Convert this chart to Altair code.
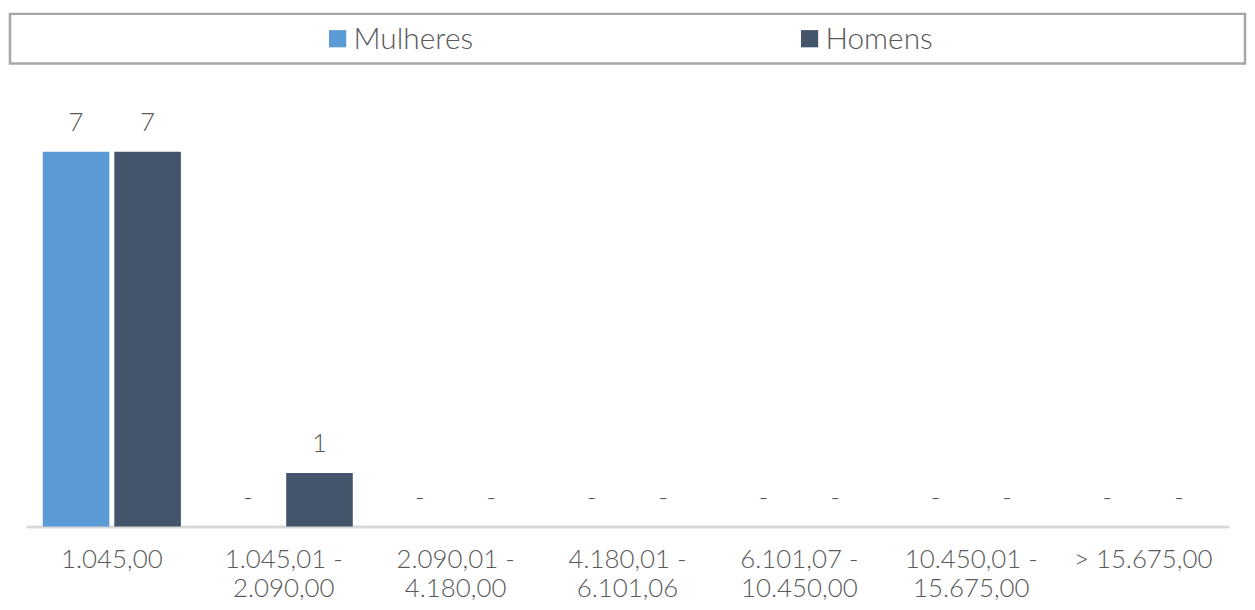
import altair as alt
import pandas as pd

categorias = ["1.045,00", "1.045,01 - 2.090,00", "2.090,01 - 4.180,00", "4.180,01 - 6.101,06",
              "6.101,07 - 10.450,00", "10.450,01 - 15.675,00", "> 15.675,00"]
series = ["Mulheres", "Homens"]
mulheres = [7, 0, 0, 0, 0, 0, 0]
homens = [7, 1, 0, 0, 0, 0, 0]
cores = ["#5B9BD5", "#44546A"]

rows = []
for i, c in enumerate(categorias):
    for s, vals in zip(series, [mulheres, homens]):
        v = vals[i]
        rows.append({"categoria": c, "serie": s, "valor": v, "rotulo": str(v) if v else "-"})
df = pd.DataFrame(rows)

TXT = "#595959"
FONT = "Lato"
WEIGHT = 300
W = 1243

color = alt.Color("serie:N", scale=alt.Scale(domain=series, range=cores), legend=None)

# legend strip (framed box)
leg_df = pd.DataFrame({"serie": series})
leg_base = alt.Chart(leg_df).encode(
    x=alt.X("serie:N", sort=series,
            scale=alt.Scale(type="point", domain=series, range=[329.75, 804.75], padding=0),
            axis=None),
    y=alt.value(25),
)
leg_sq = leg_base.mark_square(size=300, opacity=1, filled=True, strokeWidth=0).encode(color=color)
leg_tx = leg_base.mark_text(align="left", baseline="middle", dx=16, dy=1, fontSize=30,
                            font=FONT, fontWeight=WEIGHT, color=TXT).encode(text="serie:N")
legend = alt.layer(leg_sq, leg_tx).properties(
    width=W, height=50,
    view=alt.ViewBackground(stroke="#A6A6A6", strokeWidth=2.5, fill="white"),
)

label_expr = "split(replace(datum.label, ' - ', ' -|'), '|')"

x_enc = alt.X("categoria:N", sort=categorias,
              scale=alt.Scale(paddingInner=0, paddingOuter=0, range=[16, 1227]),
              axis=alt.Axis(title=None, labelAngle=0, labelExpr=label_expr, labelFontSize=26,
                            labelFont=FONT, labelFontWeight=WEIGHT, labelColor=TXT, ticks=False,
                            domainColor="#D9D9D9", domainWidth=3, labelPadding=20,
                            labelLineHeight=29, labelLimit=0, grid=False))
xoff = alt.XOffset("serie:N", sort=series,
                   scale=alt.Scale(domain=series, paddingInner=0.0694, paddingOuter=0.236))
y_enc = alt.Y("valor:Q", scale=alt.Scale(domain=[0, 8], nice=False), axis=None)

bars = alt.Chart(df).mark_bar().encode(x=x_enc, xOffset=xoff, y=y_enc, color=color)
texts = alt.Chart(df).mark_text(baseline="alphabetic", dy=-21, fontSize=26, font=FONT,
                                fontWeight=WEIGHT, color=TXT).encode(
    x=x_enc, xOffset=xoff, y=y_enc, text="rotulo:N")
barchart = alt.layer(bars, texts).properties(
    width=W, height=431,
    view=alt.ViewBackground(stroke="transparent", strokeOpacity=0),
)

chart = alt.vconcat(legend, barchart, spacing=33).properties(
    padding={"left": 0, "top": 2, "right": 0, "bottom": 0}
).configure_view(stroke="transparent").configure(font=FONT)

chart.save("out.html", embed_options={"renderer": "svg", "actions": False})
